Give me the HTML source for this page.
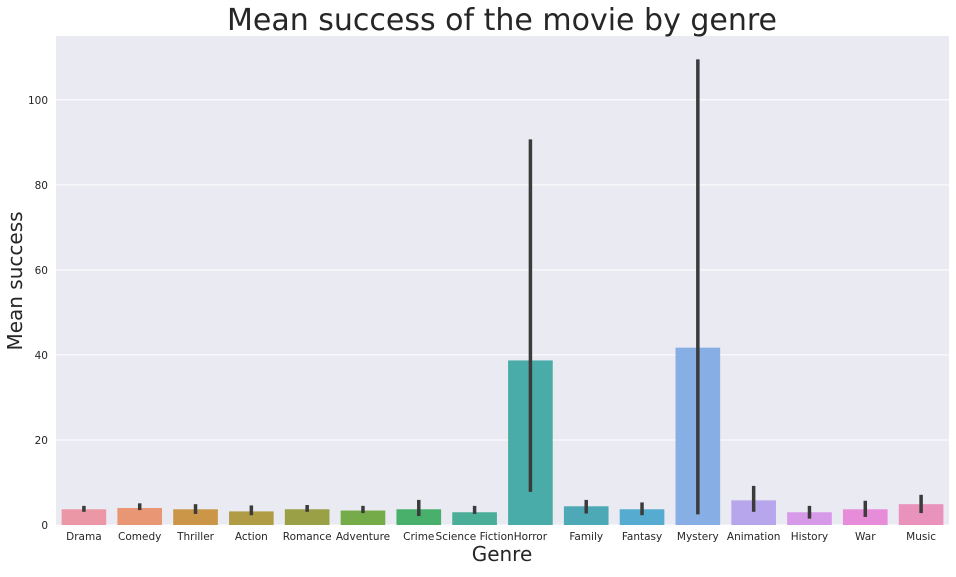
<!DOCTYPE html>
<html><head><meta charset="utf-8"><style>
body{margin:0;background:#fff;font-family:"Liberation Sans","DejaVu Sans",sans-serif}
</style></head><body>
<svg id="c" width="956" height="572" style="font-family:'DejaVu Sans','Liberation Sans',sans-serif"></svg>
<script>
const categories=["Drama","Comedy","Thriller","Action","Romance","Adventure","Crime","Science Fiction","Horror","Family","Fantasy","Mystery","Animation","History","War","Music"];
const values=[3.7,4.0,3.7,3.2,3.7,3.4,3.7,3.0,38.7,4.4,3.7,41.7,5.8,3.0,3.7,4.9];
const errLow=[3.1,3.5,2.6,2.3,3.1,2.8,2.1,2.6,7.8,2.7,2.3,2.5,3.1,1.5,1.9,2.8];
const errHigh=[4.5,5.1,4.9,4.6,4.7,4.5,5.9,4.5,90.7,5.9,5.3,109.5,9.2,4.5,5.7,7.1];
const colors=["#eb97a5","#e99675","#cc9649","#b09c45","#9aa046","#76ab4a","#48b06b","#4aae98","#4aaca8","#4ea9b6","#55acd0","#88aee6","#b8a6ec","#d79ae8","#e78cd8","#e993bc"];
const yTicks=[0,20,40,60,80,100];
const L=56,R=949,T=36,B=525,yMax=115;
const ns="http://www.w3.org/2000/svg",svg=document.getElementById('c');
function y(v){return B-(v/yMax)*(B-T);}
const bw=(R-L)/categories.length;
function x(i){return L+bw*i;}
function el(t,a,p){const e=document.createElementNS(ns,t);for(const k in a)e.setAttribute(k,a[k]);(p||svg).appendChild(e);return e;}
const bg=el('rect',{x:L,y:T,width:R-L,height:B-T,fill:'#eaeaf2'});


yTicks.forEach(t=>{
 const g=el('line',{x1:L,x2:R,y1:y(t),y2:y(t),stroke:'#fff','stroke-width':1});
 
 
 const tx=el('text',{x:L-8,y:y(t)+4,'text-anchor':'end','font-size':10.5,fill:'#262626'});
 tx.textContent=t;
 
 
});
categories.forEach((c,i)=>{
 const cx=x(i)+bw/2,w=bw*0.8;
 const r=el('rect',{x:cx-w/2,y:y(values[i]),width:w,height:y(0)-y(values[i]),fill:colors[i]});
 
 
 const e=el('line',{x1:cx,x2:cx,y1:y(errLow[i]),y2:y(errHigh[i]),stroke:'#3b3b3b','stroke-width':3.5});
 
 
 const t=el('text',{x:cx,y:540,'text-anchor':'middle','font-size':10.5,fill:'#262626'});
 t.textContent=c;
 
 
});
const ti=el('text',{x:502,y:30,'text-anchor':'middle','font-size':30,fill:'#262626'});
ti.textContent='Mean success of the movie by genre';


const xl=el('text',{x:502,y:561,'text-anchor':'middle','font-size':20,fill:'#262626'});
xl.textContent='Genre';


const yl=el('text',{x:0,y:0,'text-anchor':'middle','font-size':20,fill:'#262626',transform:'translate(22,281) rotate(-90)'});
yl.textContent='Mean success';


</script>
</body></html>
